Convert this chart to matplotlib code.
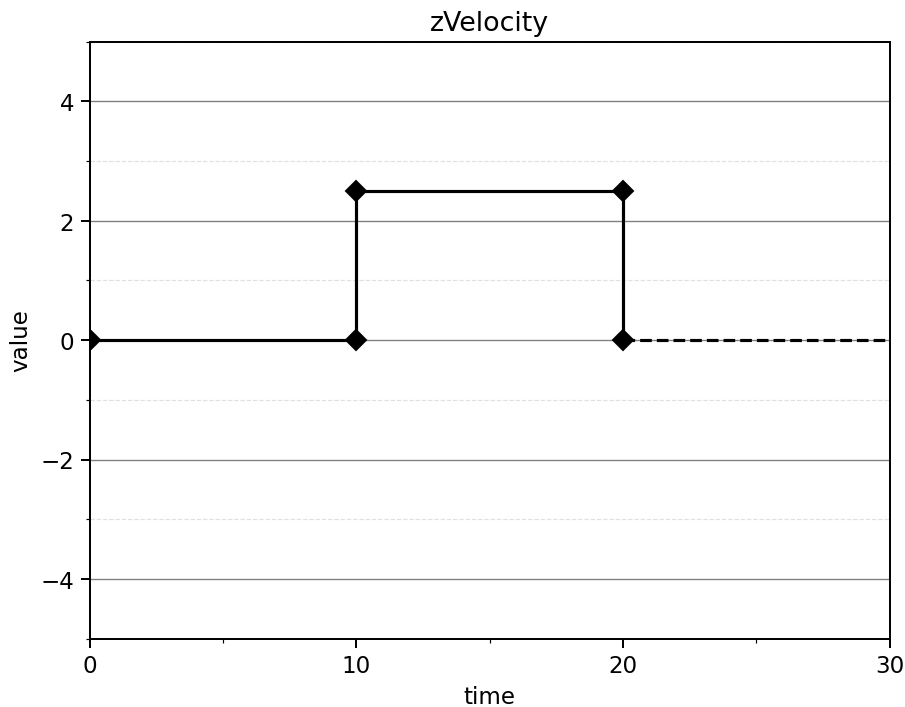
import matplotlib
matplotlib.use("Agg")
import matplotlib.pyplot as plt
from matplotlib.ticker import MultipleLocator

# step profile points
times = [0, 10, 10, 20, 20]
values = [0, 0, 2.5, 2.5, 0]
# hold after last point
hold_times = [20, 30]
hold_values = [0, 0]

fig, ax = plt.subplots(figsize=(6.4, 5.0), dpi=141.56)

ax.plot(times, values, color='black', lw=1.6, marker='D', markersize=7.5, zorder=3)
ax.plot(hold_times, hold_values, color='black', lw=1.6, ls='--', zorder=3)

ax.set_xlim(0, 30)
ax.set_ylim(-5, 5)
ax.xaxis.set_major_locator(MultipleLocator(10))
ax.xaxis.set_minor_locator(MultipleLocator(5))
ax.yaxis.set_major_locator(MultipleLocator(2))
ax.yaxis.set_minor_locator(MultipleLocator(1))
ax.tick_params(labelsize=11.7, width=1.0)
ax.tick_params(which='major', length=4.5)
for s in ax.spines.values():
    s.set_linewidth(1.0)

ax.grid(axis='y', which='major', color='0.5', lw=0.7)
ax.grid(axis='y', which='minor', color='0.88', lw=0.6, ls='--')
ax.set_axisbelow(True)

ax.set_title('zVelocity', fontsize=13.7)
ax.set_xlabel('time', fontsize=11.7)
ax.set_ylabel('value', fontsize=11.7)

fig.subplots_adjust(left=0.099, right=0.982, top=0.940, bottom=0.0965)
fig.savefig('out.png', dpi=141.56)
